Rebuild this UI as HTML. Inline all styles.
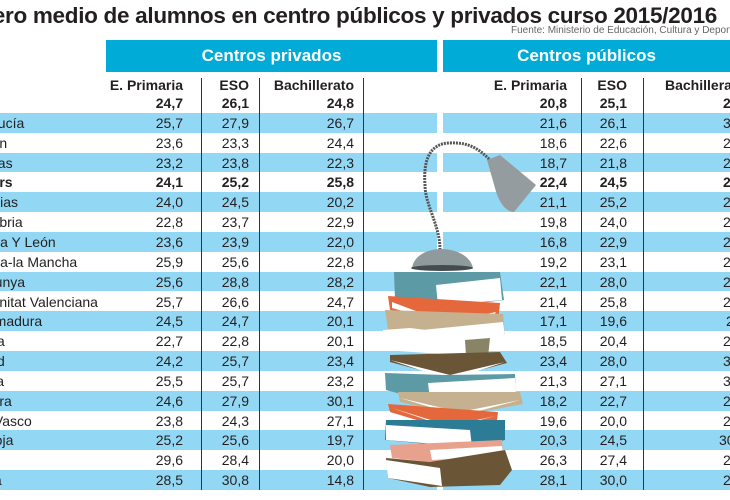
<!DOCTYPE html>
<html><head><meta charset="utf-8"><style>
html,body{margin:0;width:730px;height:500px;overflow:hidden}
body{background:#fff;font-family:"Liberation Sans",sans-serif;color:#231f20;position:relative}
.t{position:absolute;right:13px;top:3px;font-size:22.5px;font-weight:bold;white-space:nowrap;letter-spacing:-0.3px}
.src{position:absolute;left:511px;top:25px;font-size:10px;color:#666;white-space:nowrap}
.hb{position:absolute;top:40px;height:32px;background:#00acd7;color:#fff;font-weight:bold;font-size:17px;line-height:32px;text-align:center}
.r{position:absolute;left:0;width:730px;height:19.85px;line-height:20px;font-size:14px;overflow:hidden}
.b{background:linear-gradient(to right,#92d8f5 437px,#fff 437px,#fff 443px,#92d8f5 443px)}
.r span{position:absolute;white-space:nowrap}
.n{left:-38px}.p1{right:547px}.p2{right:481px}.p3{right:376px}.q1{right:163px}.q2{right:103px}.q3{left:723px}
.bd{font-weight:bold}
.h{top:75px;font-weight:bold;font-size:14px}
.v{position:absolute;top:78px;height:412px;width:1px;background:#333}
svg{position:absolute;left:0;top:0}
</style></head><body>
<div class="t">Número medio de alumnos en centro públicos y privados curso 2015/2016</div>
<div class="src">Fuente: Ministerio de Educación, Cultura y Deporte</div>
<div class="hb" style="left:106px;width:331px">Centros privados</div>
<div class="hb" style="left:443px;width:287px">Centros públicos</div>
<div class="r h"><span class="p1">E. Primaria</span><span class="p2">ESO</span><span class="p3">Bachillerato</span><span class="q1">E. Primaria</span><span class="q2">ESO</span><span class="q3" style="left:665px">Bachillerato</span></div>
<div class="r bd" style="top:93px"><span class="n">Total</span><span class="p1">24,7</span><span class="p2">26,1</span><span class="p3">24,8</span><span class="q1">20,8</span><span class="q2">25,1</span><span class="q3">25,0</span></div>
<div class="r b" style="top:112.85px"><span class="n">Andalucía</span><span class="p1">25,7</span><span class="p2">27,9</span><span class="p3">26,7</span><span class="q1">21,6</span><span class="q2">26,1</span><span class="q3">30,2</span></div>
<div class="r" style="top:132.7px"><span class="n">Aragón</span><span class="p1">23,6</span><span class="p2">23,3</span><span class="p3">24,4</span><span class="q1">18,6</span><span class="q2">22,6</span><span class="q3">25,4</span></div>
<div class="r b" style="top:152.55px"><span class="n">Asturias</span><span class="p1">23,2</span><span class="p2">23,8</span><span class="p3">22,3</span><span class="q1">18,7</span><span class="q2">21,8</span><span class="q3">24,3</span></div>
<div class="r bd" style="top:172.4px"><span class="n">Balears</span><span class="p1">24,1</span><span class="p2">25,2</span><span class="p3">25,8</span><span class="q1">22,4</span><span class="q2">24,5</span><span class="q3">26,0</span></div>
<div class="r b" style="top:192.25px"><span class="n">Canarias</span><span class="p1">24,0</span><span class="p2">24,5</span><span class="p3">20,2</span><span class="q1">21,1</span><span class="q2">25,2</span><span class="q3">25,9</span></div>
<div class="r" style="top:212.1px"><span class="n">Cantabria</span><span class="p1">22,8</span><span class="p2">23,7</span><span class="p3">22,9</span><span class="q1">19,8</span><span class="q2">24,0</span><span class="q3">23,5</span></div>
<div class="r b" style="top:231.95px"><span class="n">Castilla Y León</span><span class="p1">23,6</span><span class="p2">23,9</span><span class="p3">22,0</span><span class="q1">16,8</span><span class="q2">22,9</span><span class="q3">22,8</span></div>
<div class="r" style="top:251.8px"><span class="n">Castilla-la Mancha</span><span class="p1">25,9</span><span class="p2">25,6</span><span class="p3">22,8</span><span class="q1">19,2</span><span class="q2">23,1</span><span class="q3">24,6</span></div>
<div class="r b" style="top:271.65px"><span class="n">Catalunya</span><span class="p1">25,6</span><span class="p2">28,8</span><span class="p3">28,2</span><span class="q1">22,1</span><span class="q2">28,0</span><span class="q3">28,3</span></div>
<div class="r" style="top:291.5px"><span class="n">Comunitat Valenciana</span><span class="p1">25,7</span><span class="p2">26,6</span><span class="p3">24,7</span><span class="q1">21,4</span><span class="q2">25,8</span><span class="q3">26,7</span></div>
<div class="r b" style="top:311.35px"><span class="n">Extremadura</span><span class="p1">24,5</span><span class="p2">24,7</span><span class="p3">20,1</span><span class="q1">17,1</span><span class="q2">19,6</span><span class="q3" style="left:726px">21,1</span></div>
<div class="r" style="top:331.2px"><span class="n">Galicia</span><span class="p1">22,7</span><span class="p2">22,8</span><span class="p3">20,1</span><span class="q1">18,5</span><span class="q2">20,4</span><span class="q3">22,6</span></div>
<div class="r b" style="top:351.05px"><span class="n">Madrid</span><span class="p1">24,2</span><span class="p2">25,7</span><span class="p3">23,4</span><span class="q1">23,4</span><span class="q2">28,0</span><span class="q3">31,2</span></div>
<div class="r" style="top:370.9px"><span class="n">Murcia</span><span class="p1">25,5</span><span class="p2">25,7</span><span class="p3">23,2</span><span class="q1">21,3</span><span class="q2">27,1</span><span class="q3">30,4</span></div>
<div class="r b" style="top:390.75px"><span class="n">Navarra</span><span class="p1">24,6</span><span class="p2">27,9</span><span class="p3">30,1</span><span class="q1">18,2</span><span class="q2">22,7</span><span class="q3">24,9</span></div>
<div class="r" style="top:410.6px"><span class="n">País Vasco</span><span class="p1">23,8</span><span class="p2">24,3</span><span class="p3">27,1</span><span class="q1">19,6</span><span class="q2">20,0</span><span class="q3">23,3</span></div>
<div class="r b" style="top:430.45px"><span class="n">La Rioja</span><span class="p1">25,2</span><span class="p2">25,6</span><span class="p3">19,7</span><span class="q1">20,3</span><span class="q2">24,5</span><span class="q3" style="left:719px">30,0</span></div>
<div class="r" style="top:450.3px"><span class="n">Ceuta</span><span class="p1">29,6</span><span class="p2">28,4</span><span class="p3">20,0</span><span class="q1">26,3</span><span class="q2">27,4</span><span class="q3">25,8</span></div>
<div class="r b" style="top:470.15px"><span class="n">Melilla</span><span class="p1">28,5</span><span class="p2">30,8</span><span class="p3">14,8</span><span class="q1">28,1</span><span class="q2">30,0</span><span class="q3">26,1</span></div>
<div class="v" style="left:201px"></div><div class="v" style="left:259px"></div><div class="v" style="left:363px"></div><div class="v" style="left:581px"></div><div class="v" style="left:643px"></div>
<svg width="730" height="500" viewBox="0 0 730 500">
<path d="M440 250 C440 225 425 205 425 185 C423 160 430 143 450 143 C470 142 480 150 490 160" fill="none" stroke="#555" stroke-width="3" stroke-dasharray="2 1"/>
<path d="M487 160 L500 155 L536 185 L514 212 C505 212 498 200 495 188 Z" fill="#949c9f"/>
<path d="M412 268 C414 255 428 249 441 249 C455 249 470 255 473 268 Z" fill="#8f9a9d"/>
<ellipse cx="442" cy="268" rx="31" ry="3" fill="#454c4f"/>
<path d="M394 272 L500 272 L504 300 L440 308 L395 300 Z" fill="#5c9aa5"/><path d="M436 285 L500 278 L502 300 L438 306 Z" fill="#fff"/>
<path d="M388 296 L500 303 L498 322 L445 326 L390 310 Z" fill="#e5683d"/><path d="M392 302 L445 322 L496 312 L492 318 L445 323 L392 308Z" fill="#fff"/>
<path d="M385 310 L503 314 L505 335 L440 340 L388 330 Z" fill="#c5b190"/><path d="M422 330 L503 322 L505 336 L425 340 Z" fill="#fff"/>
<path d="M383 330 L410 328 L490 338 L488 357 L383 350 Z" fill="#fff"/><path d="M465 340 L490 338 L488 357 L466 356Z" fill="#8a8466"/>
<path d="M390 355 L500 352 L507 363 L450 378 L390 362 Z" fill="#6a5636"/><path d="M390 360 L450 375 L505 362 L450 380Z" fill="#fff"/>
<path d="M385 373 L445 375 L515 374 L516 396 L430 402 L386 390Z" fill="#5c9aa5"/><path d="M428 383 L515 378 L516 394 L430 400Z" fill="#fff"/>
<path d="M398 392 L520 392 L523 404 L460 416 L400 402Z" fill="#c5b190"/><path d="M400 398 L460 412 L520 400 L460 416Z" fill="#fff"/>
<path d="M388 404 L498 412 L497 420 L450 430 L390 412Z" fill="#e5683d"/><path d="M392 408 L450 426 L495 416 L450 428Z" fill="#fff"/>
<path d="M386 420 L505 420 L505 440 L470 448 L385 440Z" fill="#2c7c95"/><path d="M386 425 L470 430 L472 447 L386 440Z" fill="#fff"/>
<path d="M390 445 L502 440 L503 455 L430 462 L392 458Z" fill="#e7a18d"/><path d="M430 450 L502 446 L503 456 L432 460Z" fill="#fff"/>
<path d="M386 458 L430 462 L505 450 L512 470 L500 485 L430 487 L388 478Z" fill="#6a5636"/><path d="M386 460 L440 468 L442 486 L388 478Z" fill="#fff"/>
</svg>
</body></html>
